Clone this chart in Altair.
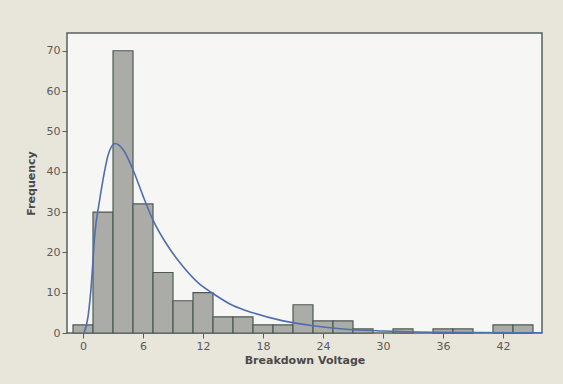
import altair as alt
import pandas as pd

# Histogram: bin centers (bin width 2) and counts
bin_centers = [0, 2, 4, 6, 8, 10, 12, 14, 16, 18, 20, 22, 24, 26, 28, 30, 32, 34, 36, 38, 40, 42, 44]
counts = [2, 30, 70, 32, 15, 8, 10, 4, 4, 2, 2, 7, 3, 3, 1, 0, 1, 0, 1, 1, 0, 2, 2]
bin_width = 2

# Fitted curve, points
curve_x = [0.1, 0.5, 0.8, 1.2, 1.6, 2.0, 2.5, 3.2, 4.0, 5.0, 6.0, 7.0, 8.5, 10, 11.5, 13, 15, 17, 20, 23, 26, 30, 35, 40, 45.8]
curve_y = [0, 4, 11, 25, 32, 38, 44, 47, 45.5, 40.5, 34, 28, 21.5, 16.5, 12.5, 9.8, 6.8, 5, 3, 1.8, 1.0, 0.5, 0.2, 0.1, 0.05]

x_ticks = [0, 6, 12, 18, 24, 30, 36, 42]
y_ticks = [0, 10, 20, 30, 40, 50, 60, 70]

bars = pd.DataFrame({
    "start": [c - bin_width / 2 for c in bin_centers],
    "end": [c + bin_width / 2 for c in bin_centers],
    "count": counts,
})
bars = bars[bars["count"] > 0]
curve = pd.DataFrame({"x": curve_x, "y": curve_y})

xs = alt.Scale(domain=[-1.6, 45.9], nice=False, zero=False)
ys = alt.Scale(domain=[0, 74.4], nice=False)

FONT = "DejaVu Sans"

xaxis = alt.Axis(values=x_ticks, title="Breakdown Voltage", grid=False, domain=False,
                 tickSize=5, tickColor="#55605a", labelColor="#5a5a5a", labelFont=FONT,
                 labelFontSize=11, labelPadding=2, titleFont=FONT, titleFontSize=11,
                 titleFontWeight="bold", titleColor="#4a4a4a", titlePadding=3)
yaxis = alt.Axis(values=y_ticks, title="Frequency", grid=False, domain=False,
                 tickSize=5, tickColor="#55605a", labelColor="#5a5a5a", labelFont=FONT,
                 labelFontSize=11, labelPadding=2, titleFont=FONT, titleFontSize=11,
                 titleFontWeight="bold", titleColor="#4a4a4a", titlePadding=10)

bar_layer = alt.Chart(bars).mark_rect(
    fill="#ababa8", stroke="#4d5a54", strokeWidth=1.2
).encode(
    x=alt.X("start:Q", scale=xs, axis=xaxis),
    x2="end:Q",
    y=alt.Y("count:Q", scale=ys, axis=yaxis),
    y2=alt.datum(0),
)

line_layer = alt.Chart(curve).mark_line(
    color="#4f6eb0", strokeWidth=1.6, interpolate="monotone", clip=True
).encode(
    x=alt.X("x:Q", scale=xs),
    y=alt.Y("y:Q", scale=ys),
)

chart = alt.layer(bar_layer, line_layer).properties(
    width=475, height=300,
    background="#e8e5da",
    padding={"left": 67, "top": 33, "right": 21, "bottom": 51},
    autosize=alt.AutoSizeParams(type="none"),
).configure_view(
    fill="#f6f6f4", stroke="#56625c", strokeWidth=1.5
)

chart.save("out.html", embed_options={"renderer": "svg", "actions": False})
